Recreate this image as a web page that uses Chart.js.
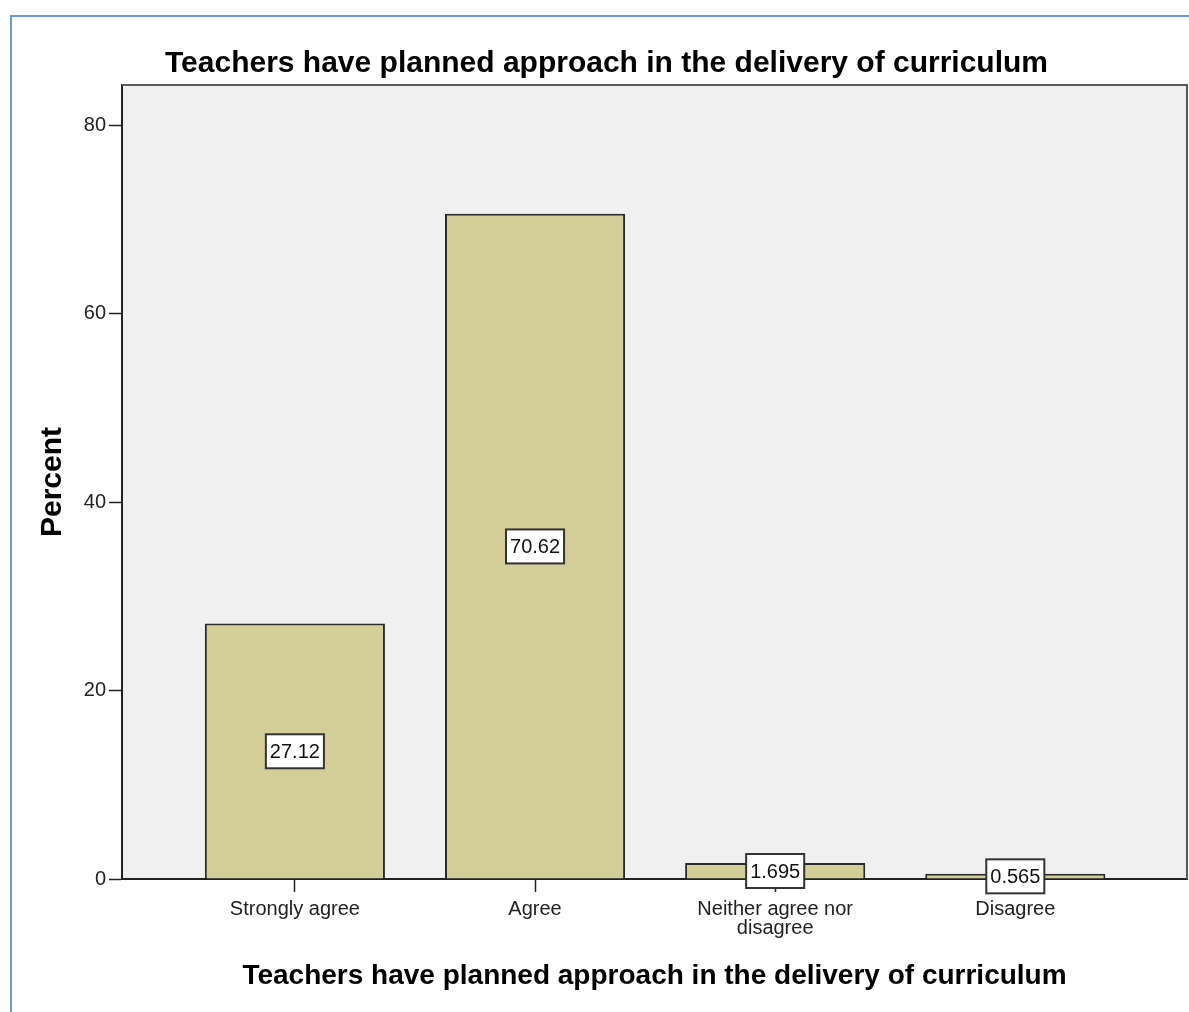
<!DOCTYPE html>
<html><head><meta charset="utf-8">
<script src="https://cdn.jsdelivr.net/npm/chart.js@4/dist/chart.umd.min.js"></script>
<style>
html,body{margin:0;padding:0;background:#fff;overflow:hidden;width:1189px;height:1012px;}
#frame{position:absolute;left:10px;top:15px;width:1300px;height:1100px;border-top:2px solid #6f9bd4;border-left:2px solid #6f9bd4;}
#wrap{position:absolute;left:0;top:0;width:1189px;height:1012px;}
</style></head><body>
<div id="frame"></div>
<div id="wrap"><canvas id="c" width="1189" height="1012"></canvas></div>
<script>
// ---- data ----
const categories = [['Strongly agree'], ['Agree'], ['Neither agree nor', 'disagree'], ['Disagree']];
const percentValues = [27.12, 70.62, 1.695, 0.565];
const valueLabels = ['27.12', '70.62', '1.695', '0.565'];
const yTickValues = [0, 20, 40, 60, 80];
const chartTitle = 'Teachers have planned approach in the delivery of curriculum';
const xAxisTitle = 'Teachers have planned approach in the delivery of curriculum';
const yAxisTitle = 'Percent';

const FONT = '"Liberation Sans", Arial, Helvetica, sans-serif';

const areaPlugin = {
  id: 'areaPlugin',
  beforeDraw(chart) {
    const {ctx, chartArea: a} = chart;
    ctx.save();
    ctx.fillStyle = '#f0f0f0';
    ctx.fillRect(a.left, a.top, a.right - a.left, a.bottom - a.top);
    ctx.restore();
  },
  afterDraw(chart) {
    const {ctx, chartArea: a} = chart;
    ctx.save();
    ctx.strokeStyle = '#5a5a5a';
    ctx.lineWidth = 2;
    ctx.beginPath();
    ctx.moveTo(a.left, a.top);
    ctx.lineTo(a.right, a.top);
    ctx.lineTo(a.right, a.bottom);
    ctx.stroke();
    // value labels
    const meta = chart.getDatasetMeta(0);
    const yScale = chart.scales.y;
    ctx.font = '20px ' + FONT;
    ctx.textAlign = 'center';
    ctx.textBaseline = 'middle';
    meta.data.forEach((bar, i) => {
      const cx = bar.x;
      const cy = yScale.getPixelForValue(percentValues[i] / 2);
      const w = ctx.measureText(valueLabels[i]).width + 8;
      const h = 34;
      ctx.fillStyle = '#ffffff';
      ctx.fillRect(cx - w / 2, cy - h / 2, w, h);
      ctx.strokeStyle = '#333333';
      ctx.lineWidth = 2;
      ctx.strokeRect(cx - w / 2, cy - h / 2, w, h);
      ctx.fillStyle = '#111111';
      ctx.fillText(valueLabels[i], cx, cy + 1);
    });
    ctx.restore();
  }
};

new Chart(document.getElementById('c'), {
  type: 'bar',
  data: {
    datasets: [{
      data: percentValues.map((v, i) => ({x: i, y: v})),
      backgroundColor: '#d3ce97',
      borderColor: '#2a2a2a',
      borderWidth: 2,
      barPercentage: 0.75,
      categoryPercentage: 1.0
    }]
  },
  options: {
    responsive: false,
    animation: false,
    devicePixelRatio: 1,
    layout: {padding: {left: 26, right: 2, top: 0, bottom: 0}},
    plugins: {
      legend: {display: false},
      tooltip: {enabled: false},
      title: {
        display: true,
        text: chartTitle,
        color: '#000',
        font: {family: FONT, size: 30, weight: 'bold', lineHeight: 1.2},
        padding: {top: 45.3, bottom: 3.7}
      }
    },
    scales: {
      x: {
        type: 'linear',
        min: -0.72,
        max: 3.715,
        offset: false,
        afterBuildTicks: s => { s.ticks = categories.map((c, i) => ({value: i})); },
        afterFit: s => { s.height = 133; },
        ticks: {
          callback: v => categories[v],
          autoSkip: false,
          maxRotation: 0,
          color: '#222',
          padding: 8,
          font: {family: FONT, size: 20, lineHeight: 0.95}
        },
        grid: {display: true, offset: false, drawOnChartArea: false, drawTicks: true, tickLength: 13, tickColor: '#222', tickWidth: 1.5},
        border: {display: true, color: '#222', width: 2},
        title: {
          display: true,
          text: xAxisTitle,
          color: '#000',
          font: {family: FONT, size: 28, weight: 'bold', lineHeight: 1.2},
          padding: {top: 0, bottom: 19}
        }
      },
      y: {
        min: 0,
        max: 84.3,
        afterBuildTicks: s => { s.ticks = yTickValues.map(v => ({value: v})); },
        afterFit: s => { s.width = 96; },
        ticks: {color: '#222', padding: 3, font: {family: FONT, size: 20}},
        grid: {display: true, drawOnChartArea: false, drawTicks: true, tickLength: 13, tickColor: '#222', tickWidth: 1.5},
        border: {display: true, color: '#222', width: 2},
        title: {
          display: true,
          text: yAxisTitle,
          color: '#000',
          font: {family: FONT, size: 30, weight: 'bold', lineHeight: 1.2},
          padding: {top: 9, bottom: 0}
        }
      }
    }
  },
  plugins: [areaPlugin]
});
</script>
</body></html>
